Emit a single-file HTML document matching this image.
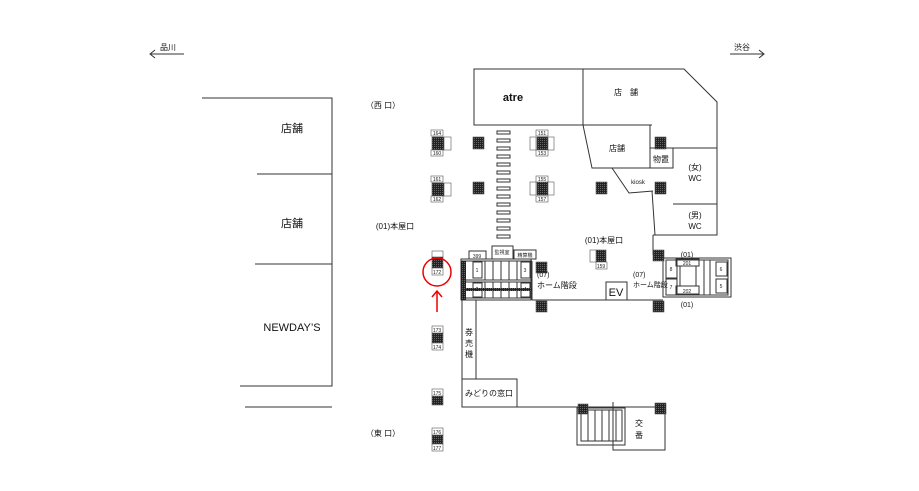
<!DOCTYPE html>
<html><head><meta charset="utf-8"><style>
html,body{margin:0;padding:0;background:#fff;}
svg{display:block;font-family:"Liberation Sans","Noto Sans CJK JP",sans-serif;}
</style></head><body>
<svg width="919" height="491" viewBox="0 0 919 491" xmlns="http://www.w3.org/2000/svg">
<defs>
<pattern id="pc" width="2" height="2" patternUnits="userSpaceOnUse"><rect width="2" height="2" fill="#222"/><rect width="1" height="1" fill="#666"/></pattern>
</defs>
<g fill="none" stroke="#333" stroke-width="1">
<!-- arrows -->
<line x1="150" y1="54" x2="184" y2="54"/><polyline points="155,50 150,54 155,58"/>
<line x1="730" y1="54" x2="764" y2="54"/><polyline points="759,50 764,54 759,58"/>
<!-- left building -->
<polyline points="202,98 332,98 332,386 240,386"/>
<line x1="257" y1="174" x2="332" y2="174"/>
<line x1="255" y1="264" x2="332" y2="264"/>
<line x1="245" y1="407" x2="332" y2="407"/>
<!-- top blocks -->
<rect x="474" y="69" width="109" height="56"/>
<polyline points="583,69 684,69 717,102 717,235 653,235"/>
<line x1="583" y1="125" x2="652" y2="125"/>
<polyline points="583,125 592,168 650,168"/>
<rect x="650" y="148" width="23" height="20"/>
<line x1="673" y1="148" x2="717" y2="148"/>
<line x1="673" y1="204" x2="717" y2="204"/>
<polyline points="612,168 629,193 653,191"/>
<line x1="650" y1="125" x2="650" y2="148"/>
<line x1="652" y1="191" x2="655" y2="235"/>
<line x1="653" y1="235" x2="653" y2="255"/>
<!-- main hall -->
<line x1="532" y1="300" x2="663" y2="300"/>
<rect x="462" y="300" width="14" height="79"/>
<rect x="462" y="379" width="55" height="28"/>
<line x1="517" y1="407" x2="665" y2="407"/>
<rect x="577" y="408" width="48" height="37"/>
<rect x="581" y="410" width="41" height="31"/>
<g>
<line x1="588" y1="410" x2="588" y2="441"/><line x1="595" y1="410" x2="595" y2="441"/><line x1="602" y1="410" x2="602" y2="441"/><line x1="609" y1="410" x2="609" y2="441"/><line x1="616" y1="410" x2="616" y2="441"/>
</g>
<polyline points="613,402 613,450 665,450 665,407"/>
<rect x="606" y="282" width="21" height="18"/>
<!-- left stairs -->
<rect x="461" y="259" width="70" height="41"/>
<line x1="461" y1="261" x2="532" y2="261"/>
<line x1="466" y1="280" x2="532" y2="280"/>
<line x1="466" y1="282" x2="532" y2="282"/>
<line x1="466" y1="298" x2="532" y2="298"/>
<line x1="532" y1="261" x2="532" y2="300"/>
<line x1="485" y1="261" x2="485" y2="280"/><line x1="493" y1="261" x2="493" y2="280"/><line x1="501" y1="261" x2="501" y2="280"/><line x1="509" y1="261" x2="509" y2="280"/><line x1="517" y1="261" x2="517" y2="280"/>
<line x1="485" y1="282" x2="485" y2="298"/><line x1="493" y1="282" x2="493" y2="298"/><line x1="501" y1="282" x2="501" y2="298"/><line x1="509" y1="282" x2="509" y2="298"/><line x1="517" y1="282" x2="517" y2="298"/>
<rect x="473" y="262" width="9" height="16"/><rect x="521" y="262" width="9" height="16"/>
<rect x="473" y="283" width="9" height="14"/><rect x="521" y="283" width="9" height="14"/>
<rect x="469" y="251" width="17" height="8"/>
<rect x="492" y="246" width="21" height="13"/>
<rect x="514" y="250" width="22" height="9"/>
<!-- right stairs -->
<rect x="663" y="258" width="68" height="39"/>
<rect x="666" y="260" width="62" height="35"/>
<rect x="666" y="260" width="11" height="18"/><rect x="666" y="279" width="11" height="16"/>
<rect x="716" y="262" width="11" height="14"/><rect x="716" y="279" width="11" height="14"/>
<rect x="676" y="259" width="23" height="7"/><rect x="676" y="286" width="23" height="8"/>
<line x1="680" y1="266" x2="680" y2="286"/><line x1="696" y1="266" x2="696" y2="286"/>
<line x1="704" y1="260" x2="704" y2="295"/><line x1="710" y1="260" x2="710" y2="295"/>
<!-- escalator dashes -->
<rect x="497" y="131" width="13" height="3"/><rect x="497" y="139" width="13" height="3"/><rect x="497" y="147" width="13" height="3"/><rect x="497" y="155" width="13" height="3"/><rect x="497" y="163" width="13" height="3"/><rect x="497" y="171" width="13" height="3"/><rect x="497" y="179" width="13" height="3"/><rect x="497" y="187" width="13" height="3"/><rect x="497" y="195" width="13" height="3"/><rect x="497" y="203" width="13" height="3"/><rect x="497" y="211" width="13" height="3"/><rect x="497" y="219" width="13" height="3"/><rect x="497" y="227" width="13" height="3"/><rect x="497" y="235" width="13" height="3"/>
</g>
<!-- dark dotted bands in left stairs -->
<rect x="461" y="261" width="5" height="39" fill="url(#pc)"/>
<rect x="466" y="288" width="66" height="3" fill="url(#pc)"/>
<!-- columns -->
<g fill="url(#pc)" stroke="#555" stroke-width="0.6">
<rect x="432" y="137" width="12" height="13"/><rect x="473" y="137" width="11" height="12"/><rect x="537" y="137" width="11" height="13"/>
<rect x="655" y="137" width="11" height="12"/>
<rect x="432" y="183" width="12" height="13"/><rect x="473" y="182" width="11" height="12"/><rect x="537" y="182" width="11" height="13"/>
<rect x="596" y="182" width="11" height="12"/><rect x="655" y="182" width="11" height="12"/>
<rect x="536" y="262" width="11" height="11"/><rect x="596" y="250" width="10" height="12"/>
<rect x="653" y="250" width="11" height="11"/>
<rect x="536" y="301" width="11" height="11"/><rect x="653" y="301" width="11" height="11"/>
<rect x="578" y="404" width="10" height="10"/><rect x="655" y="403" width="11" height="11"/>
<rect x="432" y="257" width="11" height="11"/>
<rect x="432" y="333" width="11" height="10"/><rect x="432" y="396" width="11" height="9"/><rect x="432" y="435" width="11" height="9"/>
</g>
<!-- small number tags -->
<g fill="#fff" stroke="#555" stroke-width="0.6">
<rect x="431" y="130" width="12" height="6"/><rect x="431" y="150" width="12" height="6"/><rect x="444" y="137" width="7" height="13"/>
<rect x="431" y="176" width="12" height="6"/><rect x="431" y="196" width="12" height="6"/><rect x="444" y="183" width="7" height="13"/>
<rect x="536" y="130" width="12" height="6"/><rect x="536" y="150" width="12" height="6"/><rect x="530" y="137" width="6" height="13"/><rect x="548" y="137" width="6" height="13"/>
<rect x="536" y="176" width="12" height="6"/><rect x="536" y="196" width="12" height="6"/><rect x="530" y="182" width="6" height="13"/><rect x="548" y="182" width="6" height="13"/>
<rect x="590" y="250" width="6" height="12"/><rect x="596" y="262" width="11" height="7"/>
<rect x="432" y="251" width="11" height="6"/><rect x="432" y="268" width="11" height="7"/>
<rect x="432" y="326" width="11" height="7"/><rect x="432" y="343" width="11" height="7"/>
<rect x="432" y="389" width="11" height="7"/>
<rect x="432" y="428" width="11" height="7"/><rect x="432" y="444" width="11" height="7"/>
</g>
<g font-size="5" fill="#222" text-anchor="middle">
<text x="437" y="135">164</text><text x="437" y="155">160</text><text x="437" y="181">161</text><text x="437" y="201">162</text>
<text x="542" y="135">151</text><text x="542" y="155">153</text><text x="542" y="181">155</text><text x="542" y="201">157</text>
<text x="601" y="268">159</text>
<text x="437" y="274">172</text><text x="437" y="332">173</text><text x="437" y="349">174</text><text x="437" y="395">175</text>
<text x="437" y="434">176</text><text x="437" y="450">177</text>
<text x="477" y="258">399</text><text x="502" y="254">監視室</text><text x="525" y="257">精算機</text>
<text x="687" y="265">201</text><text x="687" y="293">202</text>
<text x="477" y="272">1</text><text x="477" y="291">2</text><text x="525" y="272">3</text><text x="525" y="291">4</text>
<text x="671" y="271">8</text><text x="671" y="289">7</text><text x="721" y="271">6</text><text x="721" y="288">5</text>
</g>
<!-- red marker -->
<circle cx="437" cy="272" r="14" fill="none" stroke="#e00" stroke-width="1.5"/>
<line x1="437" y1="312" x2="437" y2="292" stroke="#e00" stroke-width="1.5"/>
<polyline points="432,297 437,291 442,297" fill="none" stroke="#e00" stroke-width="1.5"/>
<!-- labels -->
<g fill="#111">
<text x="160" y="50" font-size="8">品川</text>
<text x="734" y="50" font-size="8">渋谷</text>
<text x="292" y="132" font-size="11" text-anchor="middle">店舗</text>
<text x="292" y="227" font-size="11" text-anchor="middle">店舗</text>
<text x="292" y="331" font-size="11" text-anchor="middle">NEWDAY’S</text>
<text x="383" y="108" font-size="8" text-anchor="middle">（西 口）</text>
<text x="395" y="229" font-size="8" text-anchor="middle">(01)本屋口</text>
<text x="383" y="436" font-size="8" text-anchor="middle">（東 口）</text>
<text x="513" y="101" font-size="11" font-weight="bold" text-anchor="middle">atre</text>
<text x="626" y="95" font-size="8" text-anchor="middle">店　舗</text>
<text x="617" y="151" font-size="8" text-anchor="middle">店舗</text>
<text x="661" y="162" font-size="8" text-anchor="middle">物置</text>
<text x="638" y="184" font-size="6" text-anchor="middle">kiosk</text>
<text x="695" y="170" font-size="8" text-anchor="middle">(女)</text>
<text x="695" y="181" font-size="8" text-anchor="middle">WC</text>
<text x="695" y="218" font-size="8" text-anchor="middle">(男)</text>
<text x="695" y="229" font-size="8" text-anchor="middle">WC</text>
<text x="604" y="243" font-size="8" text-anchor="middle">(01)本屋口</text>
<text x="537" y="277" font-size="7">(07)</text>
<text x="537" y="288" font-size="8">ホーム階段</text>
<text x="633" y="277" font-size="7">(07)</text>
<text x="633" y="287" font-size="7">ホーム階段</text>
<text x="687" y="257" font-size="7" text-anchor="middle">(01)</text>
<text x="687" y="307" font-size="7" text-anchor="middle">(01)</text>
<text x="616" y="296" font-size="11" text-anchor="middle">EV</text>
<text x="469" y="335" font-size="8" text-anchor="middle">券</text>
<text x="469" y="346" font-size="8" text-anchor="middle">売</text>
<text x="469" y="357" font-size="8" text-anchor="middle">機</text>
<text x="489" y="396" font-size="8" text-anchor="middle">みどりの窓口</text>
<text x="639" y="426" font-size="8" text-anchor="middle">交</text>
<text x="639" y="438" font-size="8" text-anchor="middle">番</text>
</g>
</svg>
</body></html>
